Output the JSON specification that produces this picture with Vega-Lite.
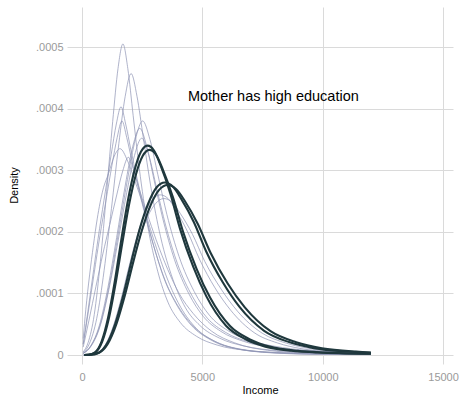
{
"$schema": "https://vega.github.io/schema/vega-lite/v6.json",
"autosize": {"type": "none"},
"width": 386,
"height": 357,
"padding": {"left": 67, "top": 7, "right": 8, "bottom": 32},
"background": "white",
"config": {"view": {"stroke": null}, "font": "Liberation Sans"},
"datasets": {
"note": [{"x": 4400, "y": 0.000419, "label": "Mother has high education"}],
"curves": [
{"c":"L1","g":"o","x":50,"y":5.0e-6},{"c":"L1","g":"o","x":255,"y":2.02e-5},{"c":"L1","g":"o","x":510,"y":6.57e-5},{"c":"L1","g":"o","x":765,"y":1.52e-4},{"c":"L1","g":"o","x":1020,"y":2.63e-4},{"c":"L1","g":"o","x":1275,"y":3.79e-4},{"c":"L1","g":"o","x":1496,"y":4.65e-4},{"c":"L1","g":"o","x":1700,"y":5.05e-4},{"c":"L1","g":"o","x":1904,"y":4.65e-4},{"c":"L1","g":"o","x":2125,"y":3.89e-4},{"c":"L1","g":"o","x":2380,"y":3.03e-4},{"c":"L1","g":"o","x":2720,"y":2.12e-4},{"c":"L1","g":"o","x":3145,"y":1.36e-4},{"c":"L1","g":"o","x":3570,"y":8.59e-5},{"c":"L1","g":"o","x":4080,"y":5.3e-5},{"c":"L1","g":"o","x":4760,"y":3.03e-5},{"c":"L1","g":"o","x":5610,"y":1.62e-5},{"c":"L1","g":"o","x":6800,"y":7.6e-6},{"c":"L1","g":"o","x":8500,"y":3.5e-6},{"c":"L1","g":"o","x":10200,"y":1.8e-6},{"c":"L1","g":"o","x":12000,"y":1.0e-6},
{"c":"L2","g":"o","x":50,"y":3.7e-6},{"c":"L2","g":"o","x":306,"y":1.83e-5},{"c":"L2","g":"o","x":612,"y":5.94e-5},{"c":"L2","g":"o","x":918,"y":1.37e-4},{"c":"L2","g":"o","x":1224,"y":2.38e-4},{"c":"L2","g":"o","x":1530,"y":3.43e-4},{"c":"L2","g":"o","x":1795,"y":4.2e-4},{"c":"L2","g":"o","x":2040,"y":4.57e-4},{"c":"L2","g":"o","x":2285,"y":4.2e-4},{"c":"L2","g":"o","x":2550,"y":3.52e-4},{"c":"L2","g":"o","x":2856,"y":2.74e-4},{"c":"L2","g":"o","x":3264,"y":1.92e-4},{"c":"L2","g":"o","x":3774,"y":1.23e-4},{"c":"L2","g":"o","x":4284,"y":7.77e-5},{"c":"L2","g":"o","x":4896,"y":4.8e-5},{"c":"L2","g":"o","x":5712,"y":2.74e-5},{"c":"L2","g":"o","x":6732,"y":1.46e-5},{"c":"L2","g":"o","x":8160,"y":6.9e-6},{"c":"L2","g":"o","x":10200,"y":3.2e-6},{"c":"L2","g":"o","x":12000,"y":1.7e-6},
{"c":"L3","g":"o","x":50,"y":1.81e-5},{"c":"L3","g":"o","x":243,"y":7.05e-5},{"c":"L3","g":"o","x":486,"y":1.39e-4},{"c":"L3","g":"o","x":729,"y":2.05e-4},{"c":"L3","g":"o","x":972,"y":2.66e-4},{"c":"L3","g":"o","x":1215,"y":3.26e-4},{"c":"L3","g":"o","x":1426,"y":3.75e-4},{"c":"L3","g":"o","x":1620,"y":4.03e-4},{"c":"L3","g":"o","x":1814,"y":3.75e-4},{"c":"L3","g":"o","x":2025,"y":3.34e-4},{"c":"L3","g":"o","x":2268,"y":2.9e-4},{"c":"L3","g":"o","x":2592,"y":2.35e-4},{"c":"L3","g":"o","x":2997,"y":1.75e-4},{"c":"L3","g":"o","x":3402,"y":1.25e-4},{"c":"L3","g":"o","x":3888,"y":8.46e-5},{"c":"L3","g":"o","x":4536,"y":4.84e-5},{"c":"L3","g":"o","x":5346,"y":2.46e-5},{"c":"L3","g":"o","x":6480,"y":9.7e-6},{"c":"L3","g":"o","x":8100,"y":3.4e-6},{"c":"L3","g":"o","x":9720,"y":1.5e-6},{"c":"L3","g":"o","x":12000,"y":8e-7},
{"c":"L4","g":"o","x":50,"y":1.71e-5},{"c":"L4","g":"o","x":249,"y":6.65e-5},{"c":"L4","g":"o","x":498,"y":1.31e-4},{"c":"L4","g":"o","x":747,"y":1.94e-4},{"c":"L4","g":"o","x":996,"y":2.51e-4},{"c":"L4","g":"o","x":1245,"y":3.08e-4},{"c":"L4","g":"o","x":1461,"y":3.53e-4},{"c":"L4","g":"o","x":1660,"y":3.8e-4},{"c":"L4","g":"o","x":1859,"y":3.53e-4},{"c":"L4","g":"o","x":2075,"y":3.15e-4},{"c":"L4","g":"o","x":2324,"y":2.74e-4},{"c":"L4","g":"o","x":2656,"y":2.22e-4},{"c":"L4","g":"o","x":3071,"y":1.65e-4},{"c":"L4","g":"o","x":3486,"y":1.18e-4},{"c":"L4","g":"o","x":3984,"y":7.98e-5},{"c":"L4","g":"o","x":4648,"y":4.56e-5},{"c":"L4","g":"o","x":5478,"y":2.32e-5},{"c":"L4","g":"o","x":6640,"y":9.1e-6},{"c":"L4","g":"o","x":8300,"y":3.2e-6},{"c":"L4","g":"o","x":9960,"y":1.4e-6},{"c":"L4","g":"o","x":12000,"y":8e-7},
{"c":"L5","g":"o","x":50,"y":2.7e-6},{"c":"L5","g":"o","x":378,"y":1.52e-5},{"c":"L5","g":"o","x":756,"y":4.94e-5},{"c":"L5","g":"o","x":1134,"y":1.14e-4},{"c":"L5","g":"o","x":1512,"y":1.98e-4},{"c":"L5","g":"o","x":1890,"y":2.85e-4},{"c":"L5","g":"o","x":2218,"y":3.5e-4},{"c":"L5","g":"o","x":2520,"y":3.8e-4},{"c":"L5","g":"o","x":2822,"y":3.5e-4},{"c":"L5","g":"o","x":3150,"y":2.93e-4},{"c":"L5","g":"o","x":3528,"y":2.28e-4},{"c":"L5","g":"o","x":4032,"y":1.6e-4},{"c":"L5","g":"o","x":4662,"y":1.03e-4},{"c":"L5","g":"o","x":5292,"y":6.46e-5},{"c":"L5","g":"o","x":6048,"y":3.99e-5},{"c":"L5","g":"o","x":7056,"y":2.28e-5},{"c":"L5","g":"o","x":8316,"y":1.22e-5},{"c":"L5","g":"o","x":10080,"y":5.7e-6},{"c":"L5","g":"o","x":12000,"y":3.2e-6},
{"c":"L6","g":"o","x":50,"y":2.6e-6},{"c":"L6","g":"o","x":360,"y":1.47e-5},{"c":"L6","g":"o","x":720,"y":4.78e-5},{"c":"L6","g":"o","x":1080,"y":1.1e-4},{"c":"L6","g":"o","x":1440,"y":1.91e-4},{"c":"L6","g":"o","x":1800,"y":2.76e-4},{"c":"L6","g":"o","x":2112,"y":3.39e-4},{"c":"L6","g":"o","x":2400,"y":3.68e-4},{"c":"L6","g":"o","x":2688,"y":3.39e-4},{"c":"L6","g":"o","x":3000,"y":2.83e-4},{"c":"L6","g":"o","x":3360,"y":2.21e-4},{"c":"L6","g":"o","x":3840,"y":1.55e-4},{"c":"L6","g":"o","x":4440,"y":9.94e-5},{"c":"L6","g":"o","x":5040,"y":6.26e-5},{"c":"L6","g":"o","x":5760,"y":3.86e-5},{"c":"L6","g":"o","x":6720,"y":2.21e-5},{"c":"L6","g":"o","x":7920,"y":1.18e-5},{"c":"L6","g":"o","x":9600,"y":5.5e-6},{"c":"L6","g":"o","x":12000,"y":2.6e-6},
{"c":"L7","g":"o","x":50,"y":2.5e-6},{"c":"L7","g":"o","x":372,"y":1.41e-5},{"c":"L7","g":"o","x":744,"y":4.58e-5},{"c":"L7","g":"o","x":1116,"y":1.06e-4},{"c":"L7","g":"o","x":1488,"y":1.83e-4},{"c":"L7","g":"o","x":1860,"y":2.64e-4},{"c":"L7","g":"o","x":2182,"y":3.24e-4},{"c":"L7","g":"o","x":2480,"y":3.52e-4},{"c":"L7","g":"o","x":2778,"y":3.24e-4},{"c":"L7","g":"o","x":3100,"y":2.71e-4},{"c":"L7","g":"o","x":3472,"y":2.11e-4},{"c":"L7","g":"o","x":3968,"y":1.48e-4},{"c":"L7","g":"o","x":4588,"y":9.5e-5},{"c":"L7","g":"o","x":5208,"y":5.98e-5},{"c":"L7","g":"o","x":5952,"y":3.7e-5},{"c":"L7","g":"o","x":6944,"y":2.11e-5},{"c":"L7","g":"o","x":8184,"y":1.13e-5},{"c":"L7","g":"o","x":9920,"y":5.3e-6},{"c":"L7","g":"o","x":12000,"y":2.7e-6},
{"c":"L8","g":"o","x":50,"y":2.68e-5},{"c":"L8","g":"o","x":158,"y":7.37e-5},{"c":"L8","g":"o","x":316,"y":1.3e-4},{"c":"L8","g":"o","x":474,"y":1.78e-4},{"c":"L8","g":"o","x":632,"y":2.21e-4},{"c":"L8","g":"o","x":869,"y":2.68e-4},{"c":"L8","g":"o","x":1106,"y":2.95e-4},{"c":"L8","g":"o","x":1343,"y":3.23e-4},{"c":"L8","g":"o","x":1580,"y":3.35e-4},{"c":"L8","g":"o","x":1896,"y":3.15e-4},{"c":"L8","g":"o","x":2212,"y":2.81e-4},{"c":"L8","g":"o","x":2528,"y":2.45e-4},{"c":"L8","g":"o","x":2844,"y":2.04e-4},{"c":"L8","g":"o","x":3160,"y":1.66e-4},{"c":"L8","g":"o","x":3634,"y":1.15e-4},{"c":"L8","g":"o","x":4108,"y":7.7e-5},{"c":"L8","g":"o","x":4740,"y":4.36e-5},{"c":"L8","g":"o","x":5530,"y":2.18e-5},{"c":"L8","g":"o","x":6320,"y":1.11e-5},{"c":"L8","g":"o","x":7900,"y":3.4e-6},{"c":"L8","g":"o","x":9480,"y":1.3e-6},{"c":"L8","g":"o","x":12000,"y":5e-7},
{"c":"L9","g":"o","x":50,"y":1.28e-5},{"c":"L9","g":"o","x":289,"y":5.62e-5},{"c":"L9","g":"o","x":578,"y":1.11e-4},{"c":"L9","g":"o","x":866,"y":1.64e-4},{"c":"L9","g":"o","x":1155,"y":2.12e-4},{"c":"L9","g":"o","x":1444,"y":2.6e-4},{"c":"L9","g":"o","x":1694,"y":2.99e-4},{"c":"L9","g":"o","x":1925,"y":3.21e-4},{"c":"L9","g":"o","x":2156,"y":2.99e-4},{"c":"L9","g":"o","x":2406,"y":2.66e-4},{"c":"L9","g":"o","x":2695,"y":2.31e-4},{"c":"L9","g":"o","x":3080,"y":1.87e-4},{"c":"L9","g":"o","x":3561,"y":1.39e-4},{"c":"L9","g":"o","x":4043,"y":9.95e-5},{"c":"L9","g":"o","x":4620,"y":6.74e-5},{"c":"L9","g":"o","x":5390,"y":3.85e-5},{"c":"L9","g":"o","x":6353,"y":1.96e-5},{"c":"L9","g":"o","x":7700,"y":7.7e-6},{"c":"L9","g":"o","x":9625,"y":2.7e-6},{"c":"L9","g":"o","x":12000,"y":1.1e-6},
{"c":"L10","g":"o","x":50,"y":0},{"c":"L10","g":"o","x":325,"y":3e-7},{"c":"L10","g":"o","x":650,"y":3.4e-6},{"c":"L10","g":"o","x":975,"y":1.69e-5},{"c":"L10","g":"o","x":1300,"y":4.68e-5},{"c":"L10","g":"o","x":1625,"y":9.1e-5},{"c":"L10","g":"o","x":1950,"y":1.43e-4},{"c":"L10","g":"o","x":2275,"y":1.91e-4},{"c":"L10","g":"o","x":2600,"y":2.29e-4},{"c":"L10","g":"o","x":2925,"y":2.52e-4},{"c":"L10","g":"o","x":3250,"y":2.6e-4},{"c":"L10","g":"o","x":3575,"y":2.54e-4},{"c":"L10","g":"o","x":3900,"y":2.35e-4},{"c":"L10","g":"o","x":4388,"y":2.0e-4},{"c":"L10","g":"o","x":4875,"y":1.56e-4},{"c":"L10","g":"o","x":5525,"y":1.09e-4},{"c":"L10","g":"o","x":6175,"y":7.28e-5},{"c":"L10","g":"o","x":7150,"y":3.64e-5},{"c":"L10","g":"o","x":8125,"y":1.95e-5},{"c":"L10","g":"o","x":9100,"y":1.04e-5},{"c":"L10","g":"o","x":10400,"y":5.2e-6},{"c":"L10","g":"o","x":11700,"y":3.1e-6},{"c":"L10","g":"o","x":12000,"y":3.0e-6},
{"c":"L11","g":"o","x":50,"y":0},{"c":"L11","g":"o","x":340,"y":3e-7},{"c":"L11","g":"o","x":680,"y":3.3e-6},{"c":"L11","g":"o","x":1020,"y":1.65e-5},{"c":"L11","g":"o","x":1360,"y":4.57e-5},{"c":"L11","g":"o","x":1700,"y":8.89e-5},{"c":"L11","g":"o","x":2040,"y":1.4e-4},{"c":"L11","g":"o","x":2380,"y":1.87e-4},{"c":"L11","g":"o","x":2720,"y":2.24e-4},{"c":"L11","g":"o","x":3060,"y":2.46e-4},{"c":"L11","g":"o","x":3400,"y":2.54e-4},{"c":"L11","g":"o","x":3740,"y":2.48e-4},{"c":"L11","g":"o","x":4080,"y":2.3e-4},{"c":"L11","g":"o","x":4590,"y":1.96e-4},{"c":"L11","g":"o","x":5100,"y":1.52e-4},{"c":"L11","g":"o","x":5780,"y":1.07e-4},{"c":"L11","g":"o","x":6460,"y":7.11e-5},{"c":"L11","g":"o","x":7480,"y":3.56e-5},{"c":"L11","g":"o","x":8500,"y":1.91e-5},{"c":"L11","g":"o","x":9520,"y":1.02e-5},{"c":"L11","g":"o","x":10880,"y":5.1e-6},{"c":"L11","g":"o","x":12000,"y":3.3e-6},
{"c":"A1","g":"h","x":100,"y":0},{"c":"A1","g":"h","x":272,"y":3e-7},{"c":"A1","g":"h","x":544,"y":4.4e-6},{"c":"A1","g":"h","x":816,"y":2.21e-5},{"c":"A1","g":"h","x":1088,"y":6.12e-5},{"c":"A1","g":"h","x":1360,"y":1.19e-4},{"c":"A1","g":"h","x":1632,"y":1.87e-4},{"c":"A1","g":"h","x":1904,"y":2.5e-4},{"c":"A1","g":"h","x":2176,"y":2.99e-4},{"c":"A1","g":"h","x":2448,"y":3.3e-4},{"c":"A1","g":"h","x":2720,"y":3.4e-4},{"c":"A1","g":"h","x":2992,"y":3.32e-4},{"c":"A1","g":"h","x":3264,"y":3.08e-4},{"c":"A1","g":"h","x":3672,"y":2.62e-4},{"c":"A1","g":"h","x":4080,"y":2.04e-4},{"c":"A1","g":"h","x":4624,"y":1.43e-4},{"c":"A1","g":"h","x":5168,"y":9.52e-5},{"c":"A1","g":"h","x":5984,"y":4.76e-5},{"c":"A1","g":"h","x":6800,"y":2.55e-5},{"c":"A1","g":"h","x":7616,"y":1.36e-5},{"c":"A1","g":"h","x":8704,"y":6.8e-6},{"c":"A1","g":"h","x":9792,"y":4.1e-6},{"c":"A1","g":"h","x":12000,"y":2.0e-6},
{"c":"A2","g":"h","x":100,"y":0},{"c":"A2","g":"h","x":280,"y":3e-7},{"c":"A2","g":"h","x":560,"y":4.3e-6},{"c":"A2","g":"h","x":840,"y":2.16e-5},{"c":"A2","g":"h","x":1120,"y":5.99e-5},{"c":"A2","g":"h","x":1400,"y":1.17e-4},{"c":"A2","g":"h","x":1680,"y":1.83e-4},{"c":"A2","g":"h","x":1960,"y":2.45e-4},{"c":"A2","g":"h","x":2240,"y":2.93e-4},{"c":"A2","g":"h","x":2520,"y":3.23e-4},{"c":"A2","g":"h","x":2800,"y":3.33e-4},{"c":"A2","g":"h","x":3080,"y":3.25e-4},{"c":"A2","g":"h","x":3360,"y":3.01e-4},{"c":"A2","g":"h","x":3780,"y":2.56e-4},{"c":"A2","g":"h","x":4200,"y":2.0e-4},{"c":"A2","g":"h","x":4760,"y":1.4e-4},{"c":"A2","g":"h","x":5320,"y":9.32e-5},{"c":"A2","g":"h","x":6160,"y":4.66e-5},{"c":"A2","g":"h","x":7000,"y":2.5e-5},{"c":"A2","g":"h","x":7840,"y":1.33e-5},{"c":"A2","g":"h","x":8960,"y":6.7e-6},{"c":"A2","g":"h","x":10080,"y":4.0e-6},{"c":"A2","g":"h","x":12000,"y":2.0e-6},
{"c":"B1","g":"h","x":100,"y":0},{"c":"B1","g":"h","x":344,"y":3e-7},{"c":"B1","g":"h","x":688,"y":3.6e-6},{"c":"B1","g":"h","x":1032,"y":1.82e-5},{"c":"B1","g":"h","x":1376,"y":5.04e-5},{"c":"B1","g":"h","x":1720,"y":9.8e-5},{"c":"B1","g":"h","x":2064,"y":1.54e-4},{"c":"B1","g":"h","x":2408,"y":2.06e-4},{"c":"B1","g":"h","x":2752,"y":2.46e-4},{"c":"B1","g":"h","x":3096,"y":2.72e-4},{"c":"B1","g":"h","x":3440,"y":2.8e-4},{"c":"B1","g":"h","x":3784,"y":2.73e-4},{"c":"B1","g":"h","x":4128,"y":2.53e-4},{"c":"B1","g":"h","x":4644,"y":2.16e-4},{"c":"B1","g":"h","x":5160,"y":1.68e-4},{"c":"B1","g":"h","x":5848,"y":1.18e-4},{"c":"B1","g":"h","x":6536,"y":7.84e-5},{"c":"B1","g":"h","x":7568,"y":3.92e-5},{"c":"B1","g":"h","x":8600,"y":2.1e-5},{"c":"B1","g":"h","x":9632,"y":1.12e-5},{"c":"B1","g":"h","x":11008,"y":5.6e-6},{"c":"B1","g":"h","x":12000,"y":3.6e-6},
{"c":"B2","g":"h","x":100,"y":0},{"c":"B2","g":"h","x":356,"y":3e-7},{"c":"B2","g":"h","x":712,"y":3.6e-6},{"c":"B2","g":"h","x":1068,"y":1.79e-5},{"c":"B2","g":"h","x":1424,"y":4.97e-5},{"c":"B2","g":"h","x":1780,"y":9.66e-5},{"c":"B2","g":"h","x":2136,"y":1.52e-4},{"c":"B2","g":"h","x":2492,"y":2.03e-4},{"c":"B2","g":"h","x":2848,"y":2.43e-4},{"c":"B2","g":"h","x":3204,"y":2.68e-4},{"c":"B2","g":"h","x":3560,"y":2.76e-4},{"c":"B2","g":"h","x":3916,"y":2.69e-4},{"c":"B2","g":"h","x":4272,"y":2.5e-4},{"c":"B2","g":"h","x":4806,"y":2.13e-4},{"c":"B2","g":"h","x":5340,"y":1.66e-4},{"c":"B2","g":"h","x":6052,"y":1.16e-4},{"c":"B2","g":"h","x":6764,"y":7.73e-5},{"c":"B2","g":"h","x":7832,"y":3.86e-5},{"c":"B2","g":"h","x":8900,"y":2.07e-5},{"c":"B2","g":"h","x":9968,"y":1.1e-5},{"c":"B2","g":"h","x":11392,"y":5.5e-6},{"c":"B2","g":"h","x":12000,"y":4.1e-6}
]
},
"encoding": {
"x": {"field": "x", "type": "quantitative",
 "scale": {"domain": [-623, 15413], "nice": false, "zero": false},
 "axis": {"values": [0, 5000, 10000, 15000], "format": "d", "title": "Income", "domain": false, "ticks": false, "tickSize": 0, "labelPadding": 7, "labelFontSize": 11, "labelColor": "#9a9a9a", "labelFont": "Liberation Sans", "labelFlush": false, "labelOverlap": false, "grid": true, "gridColor": "#dadada", "gridWidth": 1, "titleFont": "Liberation Sans", "titleFontSize": 11, "titleFontWeight": "normal", "titleColor": "#000000", "titleX": 193, "titleY": 26, "titleBaseline": "middle", "titleAlign": "center"}},
"y": {"field": "y", "type": "quantitative",
 "scale": {"domain": [-0.0000146, 0.000565], "nice": false, "zero": false},
 "axis": {"values": [0, 0.0001, 0.0002, 0.0003, 0.0004, 0.0005], "labelExpr": "datum.value == 0 ? '0' : replace(format(datum.value, '.4f'), '0.', '.')", "title": "Density", "domain": false, "ticks": false, "tickSize": 0, "labelPadding": 4, "labelFontSize": 11, "labelColor": "#9a9a9a", "labelFont": "Liberation Sans", "labelOverlap": false, "labelFlush": false, "grid": true, "gridColor": "#dadada", "gridWidth": 1, "titleFont": "Liberation Sans", "titleFontSize": 11, "titleFontWeight": "normal", "titleColor": "#000000", "titleAngle": -90, "titleX": -53, "titleY": 178, "titleBaseline": "middle", "titleAlign": "center"}}
},
"layer": [
{"data": {"name": "curves"}, "transform": [{"filter": "datum.g == 'o'"}],
 "mark": {"type": "line", "interpolate": "monotone", "stroke": "#8f95b5", "strokeWidth": 0.9, "opacity": 0.8},
 "encoding": {"detail": {"field": "c", "type": "nominal"}}},
{"data": {"name": "curves"}, "transform": [{"filter": "datum.g == 'h'"}],
 "mark": {"type": "line", "interpolate": "monotone", "stroke": "#1f383d", "strokeWidth": 2.1},
 "encoding": {"detail": {"field": "c", "type": "nominal"}}},
{"data": {"name": "note"},
 "mark": {"type": "text", "align": "left", "baseline": "middle", "fontSize": 14.5, "font": "Liberation Sans", "color": "#000000"},
 "encoding": {"text": {"field": "label", "type": "nominal"}}}
]
}
